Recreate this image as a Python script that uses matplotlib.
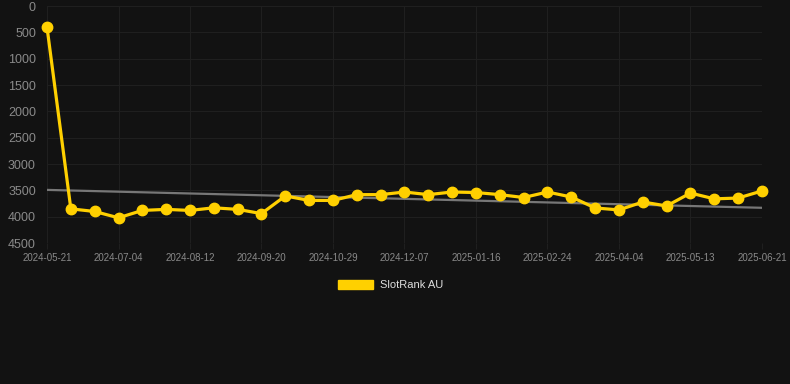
import matplotlib.pyplot as plt
import numpy as np

plt.rcParams['font.family'] = ['Liberation Sans', 'DejaVu Sans']

# rank values (lower is better, axis inverted)
ranks = [400, 3850, 3900, 4020, 3880, 3860, 3880, 3830, 3860, 3940,
         3605, 3690, 3690, 3580, 3580, 3530, 3580, 3530, 3540, 3580,
         3635, 3530, 3625, 3833, 3870, 3720, 3795, 3550, 3660, 3645, 3510]
tick_labels = ['2024-05-21', '2024-07-04', '2024-08-12', '2024-09-20',
               '2024-10-29', '2024-12-07', '2025-01-16', '2025-02-24',
               '2025-04-04', '2025-05-13', '2025-06-21']
series_name = 'SlotRank AU'
# trend line ends as drawn on the chart
trend_ends = [3490, 3830]

bg = '#121212'
yellow = '#FFD000'

x = np.arange(len(ranks))
tick_pos = x[::3]

fig = plt.figure(figsize=(7.9, 3.84), dpi=100, facecolor=bg)
ax = fig.add_axes([0.0595, 0.367, 0.905, 0.617], facecolor=bg)

ax.plot([x[0], x[-1]], trend_ends, color='#777777', lw=1.6, zorder=2)

ax.plot(x, ranks, color=yellow, lw=2.3, marker='o', markersize=7.5,
        clip_on=False, zorder=3, label=series_name)

ax.set_xlim(0, len(ranks) - 1)
ax.set_ylim(4500, 0)
ax.set_yticks(np.arange(0, 4501, 500))
ax.set_xticks(tick_pos)
ax.set_xticklabels(tick_labels)

ax.grid(True, color='#1f1f1f', lw=0.8)
for s in ax.spines.values():
    s.set_visible(False)
ax.tick_params(axis='y', colors='#8a8a8a', labelsize=9, length=0, pad=8)
ax.tick_params(axis='x', colors='#8a8a8a', labelsize=7, length=4, color='#1f1f1f', pad=3)

handle = plt.Rectangle((0, 0), 1, 1, color=yellow)
fig.legend([handle], [series_name], loc='center', bbox_to_anchor=(0.494, 0.258),
           frameon=False, labelcolor='#dddddd', fontsize=8, handlelength=3.2,
           handleheight=0.9, handletextpad=0.6)

fig.savefig('out.png', dpi=100, facecolor=bg)
